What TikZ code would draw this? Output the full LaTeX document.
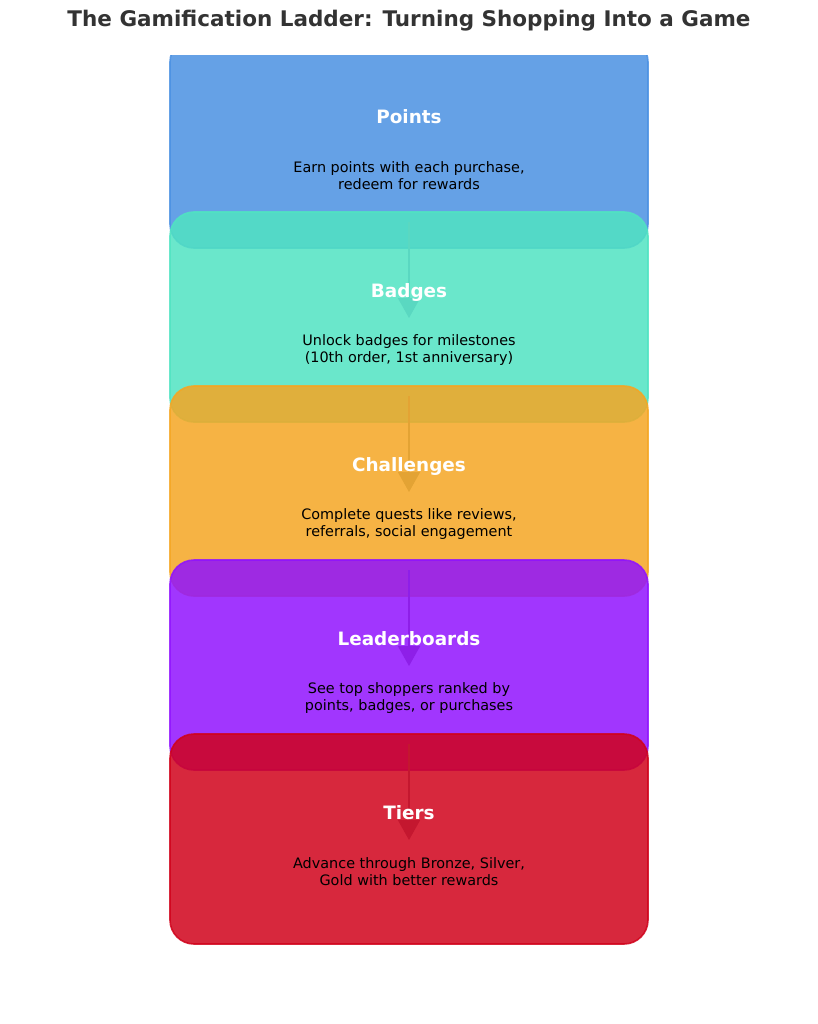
\documentclass[tikz,border=0pt]{standalone}
\usepackage{fontspec}
\setmainfont{DejaVu Sans}
\usetikzlibrary{arrows.meta}
\definecolor{cblue}{HTML}{4A90E2}
\definecolor{cteal}{HTML}{50E3C2}
\definecolor{corange}{HTML}{F5A623}
\definecolor{cpurple}{HTML}{9013FE}
\definecolor{cred}{HTML}{D0021B}
\definecolor{ateal}{HTML}{5AD8C1}
\definecolor{aorange}{HTML}{E3A334}
\definecolor{apurple}{HTML}{8E1FE8}
\definecolor{ared}{HTML}{C4172F}
\definecolor{titlegray}{HTML}{333333}
\tikzset{
  stagebox/.style={draw=#1, fill=#1, opacity=0.85, line width=1.6pt,
    rounded corners=24pt, minimum width=478pt, minimum height=210pt,
    inner sep=0pt, outer sep=0pt},
  headtext/.style={text=white, font=\fontsize{18.4}{22}\selectfont\bfseries,
    text height=13.5pt, text depth=0pt},
  desctext/.style={text=black, align=center, font=\fontsize{14.4}{17}\selectfont},
  flowarrow/.style={draw=#1, line width=1.8pt, -{Triangle[width=22pt,length=20pt]}},
}
\begin{document}
\begin{tikzpicture}[x=1pt,y=-1pt]
\useasboundingbox (0,0) rectangle (818,1024);
\node[text=titlegray, font=\fontsize{21.5}{25}\selectfont\bfseries] (title) at (409,21) {The Gamification Ladder: Turning Shopping Into a Game};
\begin{scope}
\clip (0,56) rectangle (818,1024);
\node[stagebox=cblue] (b1) at (409,143) {};
\end{scope}
\node[stagebox=cteal] (b2) at (409,317) {};
\node[stagebox=corange] (b3) at (409,491) {};
\node[stagebox=cpurple] (b4) at (409,665) {};
\node[stagebox=cred] (b5) at (409,839) {};
% arrows
\coordinate (s2) at (409,222); \coordinate (e2) at (409,318);
\coordinate (s3) at (409,396); \coordinate (e3) at (409,492);
\coordinate (s4) at (409,570); \coordinate (e4) at (409,666);
\coordinate (s5) at (409,744); \coordinate (e5) at (409,840);
\draw[flowarrow=ateal] (s2) -- (e2);
\draw[flowarrow=aorange] (s3) -- (e3);
\draw[flowarrow=apurple] (s4) -- (e4);
\draw[flowarrow=ared] (s5) -- (e5);
% texts
\node[headtext] (h1) at (409,117) {Points};
\node[desctext] (d1) at (409,176) {Earn points with each purchase,\\redeem for rewards};
\node[headtext] (h2) at (409,291) {Badges};
\node[desctext] (d2) at (409,350) {Unlock badges for milestones\\(10th order, 1st anniversary)};
\node[headtext] (h3) at (409,465) {Challenges};
\node[desctext] (d3) at (409,524) {Complete quests like reviews,\\referrals, social engagement};
\node[headtext] (h4) at (409,639) {Leaderboards};
\node[desctext] (d4) at (409,698) {See top shoppers ranked by\\points, badges, or purchases};
\node[headtext] (h5) at (409,813) {Tiers};
\node[desctext] (d5) at (409,872) {Advance through Bronze, Silver,\\Gold with better rewards};
\end{tikzpicture}
\end{document}
